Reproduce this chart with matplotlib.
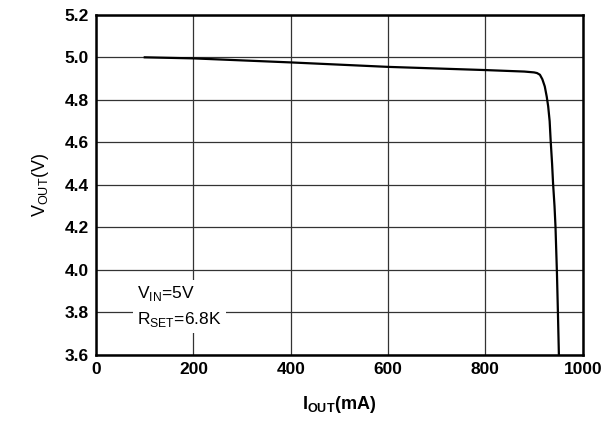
import matplotlib.pyplot as plt

# output current (mA) vs output voltage (V)
iout = [100, 200, 400, 600, 800, 880, 900, 906, 912, 917, 922, 926, 929, 932, 934, 937, 939, 942, 944, 947, 949, 951]
vout = [5.000, 4.995, 4.976, 4.955, 4.940, 4.933, 4.929, 4.926, 4.918, 4.897, 4.863, 4.815, 4.769, 4.700, 4.612, 4.500, 4.408, 4.300, 4.204, 3.985, 3.800, 3.600]

xticks = [0, 200, 400, 600, 800, 1000]
yticks = [3.6, 3.8, 4.0, 4.2, 4.4, 4.6, 4.8, 5.0, 5.2]

plt.rcParams['font.family'] = ['Liberation Sans', 'DejaVu Sans']
plt.rcParams['mathtext.fontset'] = 'custom'
plt.rcParams['mathtext.rm'] = 'Liberation Sans'

fig = plt.figure(figsize=(6.16, 4.23), dpi=100)
ax = fig.add_axes([0.156, 0.161, 0.790, 0.804])

ax.plot(iout, vout, color='black', linewidth=1.6, zorder=3)

ax.set_xlim(0, 1000)
ax.set_ylim(3.6, 5.2)
ax.set_xticks(xticks)
ax.set_yticks(yticks)
ax.set_xticklabels([str(t) for t in xticks])
ax.set_yticklabels([f'{t:.1f}' for t in yticks])
ax.tick_params(length=0, labelsize=12.5, pad=5)
for lab in ax.get_xticklabels() + ax.get_yticklabels():
    lab.set_fontweight('bold')

ax.grid(True, color='#333333', linewidth=0.9)
for s in ax.spines.values():
    s.set_linewidth(1.8)
    s.set_color('black')

ax.set_xlabel(r'I$_{\mathregular{OUT}}$(mA)', fontsize=13, fontweight='bold', labelpad=12)
ax.set_ylabel(r'V$_{\mathregular{OUT}}$(V)', fontsize=13, labelpad=10)

box = dict(facecolor='white', edgecolor='none', pad=3)
ax.text(84, 3.887, r'V$_{\mathregular{IN}}$=5V', fontsize=12.5, va='center', ha='left', bbox=box, zorder=4)
ax.text(84, 3.765, r'R$_{\mathregular{SET}}$=6.8K', fontsize=12.5, va='center', ha='left', bbox=box, zorder=4)

plt.savefig('out.png', dpi=100)
